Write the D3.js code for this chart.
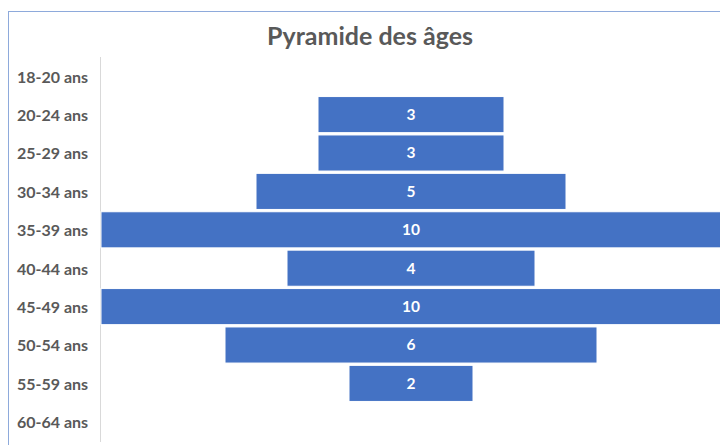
<!DOCTYPE html>
<html>
<head>
<meta charset="utf-8">
<title>Pyramide des âges</title>
<style>
  body { margin: 0; background: #fff; }
  svg { display: block; }
  .lbl { font-family: Lato, "Open Sans", sans-serif; font-weight: bold; }
</style>
<script src="https://d3js.org/d3.v7.min.js"></script>
</head>
<body>
<svg id="chart" width="720" height="445"></svg>
<script>
// tranches d'age et effectifs
var tranches = ["18-20 ans", "20-24 ans", "25-29 ans", "30-34 ans", "35-39 ans",
                "40-44 ans", "45-49 ans", "50-54 ans", "55-59 ans", "60-64 ans"];
var effectifs = [0, 3, 3, 5, 10, 4, 10, 6, 2, 0];

var svg = d3.select("#chart");

// cadre du graphique (depasse a droite et en bas)
svg.append("rect")
  .attr("x", 8.5).attr("y", 11.5)
  .attr("width", 740).attr("height", 460)
  .attr("fill", "none")
  .attr("stroke", "#8eaadb")
  .attr("stroke-width", 1);

svg.append("text")
  .attr("class", "lbl")
  .attr("x", 370).attr("y", 45)
  .attr("text-anchor", "middle")
  .attr("font-size", 25)
  .attr("fill", "#595959")
  .text("Pyramide des âges");

var x = d3.scaleLinear().domain([-5, 5]).range([101, 721]);
var y = d3.scaleBand().domain(tranches).range([57, 441]).paddingInner(0.06).paddingOuter(0.03);

var data = tranches.map(function(t, i) { return { name: t, value: effectifs[i] }; });

// axe vertical
svg.append("line")
  .attr("x1", 100.5).attr("x2", 100.5)
  .attr("y1", 57).attr("y2", 442)
  .attr("stroke", "#d9d9d9");

var yAxis = svg.append("g")
  .attr("transform", "translate(100,0)")
  .call(d3.axisLeft(y).tickSize(0).tickPadding(10));
yAxis.select(".domain").remove();
yAxis.selectAll("text")
  .attr("class", "lbl")
  .attr("x", -83)
  .attr("dy", "0.4em")
  .attr("text-anchor", "start")
  .attr("font-size", 16)
  .attr("fill", "#595959");

var bars = data.filter(function(d) { return d.value > 0; });

svg.selectAll(".bar")
  .data(bars)
  .enter().append("rect")
  .attr("class", "bar")
  .attr("x", function(d) { return x(-d.value / 2); })
  .attr("y", function(d) { return y(d.name); })
  .attr("width", function(d) { return x(d.value / 2) - x(-d.value / 2); })
  .attr("height", y.bandwidth())
  .attr("fill", "#4472c4")
  .attr("stroke", "#ffffff")
  .attr("stroke-width", 1);

svg.selectAll(".val")
  .data(bars)
  .enter().append("text")
  .attr("class", "lbl")
  .attr("x", x(0))
  .attr("y", function(d) { return y(d.name) + y.bandwidth() / 2; })
  .attr("dy", "0.35em")
  .attr("text-anchor", "middle")
  .attr("font-size", 15.5)
  .attr("fill", "#ffffff")
  .text(function(d) { return d.value; });
</script>
</body>
</html>
